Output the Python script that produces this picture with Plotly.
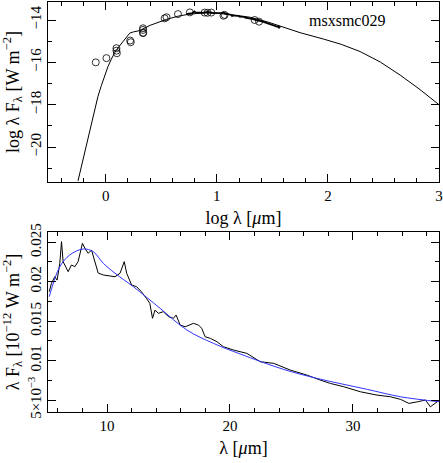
import math
import plotly.graph_objects as go

# top panel: SED model (log lambda [um], log lambda F_lambda [W m^-2])
model_logl = [-0.25, -0.21, -0.174, -0.13, -0.10, -0.07, -0.04, -0.01, 0.02, 0.05, 0.08, 0.12,
              0.156, 0.19, 0.216, 0.25, 0.306, 0.40, 0.47, 0.547, 0.65, 0.757, 0.88, 0.997,
              1.15, 1.3, 1.45, 1.57, 1.75, 1.96, 2.12, 2.29, 2.47, 2.65, 2.82, 3.0]
model_logf = [-21.6, -20.7, -19.8, -18.9, -18.2, -17.6, -17.1, -16.6, -16.2, -15.85, -15.55,
              -15.25, -15.0, -14.75, -14.62, -14.56, -14.5, -14.25, -14.1, -13.97, -13.82,
              -13.72, -13.67, -13.68, -13.76, -13.87, -14.08, -14.3, -14.6, -14.9, -15.15,
              -15.49, -15.98, -16.6, -17.25, -18.0]

# photometry points
phot_logl = [-0.09, 0.006, 0.096, 0.096, 0.10, 0.22, 0.225, 0.335, 0.335, 0.337, 0.335,
             0.53, 0.547, 0.65, 0.757, 0.89, 0.916, 0.95, 1.06, 1.07, 1.34, 1.38]
phot_logf = [-16.0, -15.8, -15.33, -15.45, -15.57, -14.97, -15.05, -14.39, -14.47, -14.6, -14.62,
             -13.92, -13.87, -13.72, -13.64, -13.65, -13.66, -13.65, -13.8, -13.76, -14.0, -14.08]

# bottom panel: IRS spectrum (lambda [um], lambda F_lambda [1e-12 W m^-2])
spec_wl = [5.3, 5.48, 5.75, 5.94, 6.16, 6.3, 6.43, 6.84, 7.11, 7.38, 7.65, 8.0, 8.2, 8.47,
           8.74, 9.0, 9.28, 9.7, 10.24, 10.65, 11.06, 11.4, 11.6, 12.0, 12.4, 12.8, 13.2,
           13.48, 13.7, 13.9, 14.18, 14.59, 15.0, 15.4, 15.62, 15.95, 16.36, 16.63, 17.03,
           17.44, 17.7, 17.98, 18.4, 18.93, 19.47, 20.3, 21.38, 22.47, 23.55, 24.9, 26.26,
           27.34, 28.17, 29.26, 30.62, 31.97, 33.05, 33.88, 34.55, 35.24, 35.9, 36.3, 36.7, 37.05]
spec_f = [0.01873, 0.0198, 0.02063, 0.0202, 0.02234, 0.02508, 0.02254, 0.02127, 0.02212,
          0.0219, 0.02254, 0.02487, 0.02424, 0.0236, 0.02402, 0.02254, 0.0211, 0.02085,
          0.02072, 0.02063, 0.02107, 0.02254, 0.02107, 0.01958, 0.01937, 0.01873, 0.01789,
          0.01726, 0.01536, 0.0164, 0.01599, 0.0162, 0.01556, 0.01536, 0.01577, 0.0145,
          0.01429, 0.0145, 0.01472, 0.0145, 0.01409, 0.01302, 0.01282, 0.0124, 0.01175,
          0.01133, 0.01091, 0.00985, 0.00965, 0.0088, 0.00816, 0.00753, 0.0071, 0.00668,
          0.00604, 0.00562, 0.00541, 0.00508, 0.00457, 0.00477, 0.005, 0.00414, 0.00457, 0.005]

# fitted model for the spectrum
fit_wl = [5.3, 6.16, 6.97, 8.07, 8.88, 9.7, 10.65, 12.14, 14.32, 16.5, 18.66, 20.84, 24.37,
          27.08, 31.16, 33.88, 37.08]
fit_f = [0.0181, 0.0219, 0.02339, 0.02415, 0.0238, 0.02233, 0.02107, 0.01937, 0.01662,
         0.01387, 0.01218, 0.01083, 0.00888, 0.00774, 0.00635, 0.00541, 0.00477]

# spectrum in log units for the top panel
spec_logl = [math.log10(w) for w in spec_wl]
spec_logf = [math.log10(f) - 12 for f in spec_f]

FONT = "Liberation Serif, Times New Roman, serif"

fig = go.Figure()
fig.add_trace(go.Scatter(x=model_logl, y=model_logf, mode='lines', line=dict(color='black', width=1),
                         xaxis='x', yaxis='y'))
fig.add_trace(go.Scatter(x=spec_logl, y=spec_logf, mode='lines', line=dict(color='black', width=1.8),
                         xaxis='x', yaxis='y'))
fig.add_trace(go.Scatter(x=phot_logl, y=phot_logf, mode='markers',
                         marker=dict(symbol='circle-open', size=7, color='black', line=dict(width=0.8)),
                         xaxis='x', yaxis='y'))
fig.add_trace(go.Scatter(x=spec_wl, y=spec_f, mode='lines', line=dict(color='black', width=1),
                         xaxis='x2', yaxis='y2'))
fig.add_trace(go.Scatter(x=fit_wl, y=fit_f, mode='lines', line=dict(color='#3333ff', width=1),
                         line_shape='spline', xaxis='x2', yaxis='y2'))

ax = dict(showline=True, linecolor='black', linewidth=1, mirror='ticks', ticks='inside',
          ticklen=8, tickcolor='black', showgrid=False, zeroline=False, automargin=False,
          tickfont=dict(family=FONT, size=15, color='black'))
mn = dict(ticklen=4, ticks='inside', tickcolor='black', tick0=0)

fig.update_layout(
    width=443, height=463, showlegend=False,
    margin=dict(l=48, r=4, t=2, b=51),
    plot_bgcolor='white', paper_bgcolor='white',
    font=dict(family=FONT, size=15, color='black'),
    xaxis=dict(ax, domain=[0, 1], anchor='y', range=[-0.52, 3], tickvals=[0, 1, 2, 3],
               minor=dict(mn, dtick=0.2),
               title=dict(text='log λ [<i>μ</i>m]', standoff=8)),
    yaxis=dict(ax, domain=[0.561, 1], anchor='x', range=[-21.65, -13.15], tickvals=[-14, -16, -18, -20],
               tickangle=-90, minor=dict(mn, dtick=1),
               title=dict(text='log λ F<sub>λ</sub> [W m<sup>−2</sup>]', standoff=4)),
    xaxis2=dict(ax, domain=[0, 1], anchor='y2', range=[5.2, 37], tickvals=[10, 20, 30],
                minor=dict(mn, dtick=2),
                title=dict(text='λ [<i>μ</i>m]', standoff=8)),
    yaxis2=dict(ax, domain=[0, 0.439], anchor='x2', range=[0.00348, 0.0263],
                tickvals=[0.005, 0.01, 0.015, 0.02, 0.025],
                ticktext=['5×10<sup>−3</sup>', '0.01', '0.015', '0.02', '0.025'],
                tickangle=-90, minor=dict(mn, dtick=0.0025),
                title=dict(text='λ F<sub>λ</sub> [10<sup>−12</sup> W m<sup>−2</sup>]', standoff=4)),
    annotations=[dict(x=2.17, y=-14.0, xref='x', yref='y', text='msxsmc029', showarrow=False,
                      font=dict(family=FONT, size=16, color='black'))],
)

# page body margin off, so the figure sits at the window's corner; no modebar
fig.write_html("out.html", config={'displayModeBar': False},
               post_script="document.body.style.margin='0';")
